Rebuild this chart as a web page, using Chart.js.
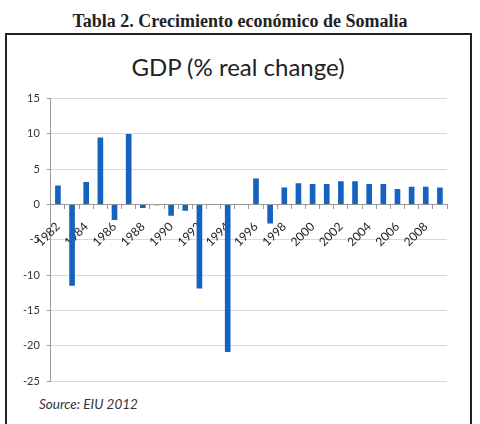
<!DOCTYPE html>
<html>
<head>
<meta charset="utf-8">
<script src="https://cdn.jsdelivr.net/npm/chart.js@4/dist/chart.umd.min.js"></script>
<style>
  html, body { margin:0; padding:0; background:#fff; width:480px; height:424px; overflow:hidden; }
  #outerTitle { position:absolute; left:0; top:11px; width:480px; text-align:center;
    font-family:"Liberation Serif", serif; font-weight:bold; font-size:18px; color:#222; }
  #box { position:absolute; left:5px; top:33px; width:463px; height:420px; border:2px solid #222; }
  #chartTitle { position:absolute; left:0; top:52px; width:476px; text-align:center;
    font-family:Lato, "Open Sans", sans-serif; font-size:24px; color:#222; }
  #source { position:absolute; left:39px; top:396px; font-family:Lato, sans-serif; font-style:italic; font-size:13.5px; color:#333; }
  #wrap { position:absolute; left:0; top:85px; width:480px; height:310px; }
</style>
</head>
<body>
<div id="outerTitle">Tabla 2. Crecimiento económico de Somalia</div>
<div id="box"></div>
<div id="chartTitle">GDP (% real change)</div>
<div id="wrap"><canvas id="c" width="480" height="310"></canvas></div>
<div id="source">Source: EIU 2012</div>
<script>
const years = ["1982","1983","1984","1985","1986","1987","1988","1989","1990","1991","1992","1993","1994","1995",
               "1996","1997","1998","1999","2000","2001","2002","2003","2004","2005","2006","2007","2008","2009"];
const gdpChange = [2.7,-11.5,3.2,9.5,-2.2,10.0,-0.5,-0.1,-1.6,-0.9,-11.9,0,-20.9,0,
                   3.7,-2.7,2.4,3.0,2.9,2.9,3.3,3.3,2.9,2.9,2.2,2.5,2.5,2.4];
const yTicks = [-25,-20,-15,-10,-5,0,5,10,15];

new Chart(document.getElementById('c'), {
  type: 'bar',
  data: {
    labels: years,
    datasets: [{ data: gdpChange, backgroundColor: '#1662c0', borderWidth: 0,
      barPercentage: 0.4, categoryPercentage: 1.0 }]
  },
  options: {
    responsive: false,
    animation: false,
    layout: { padding: { left: 16, right: 33, top: 12, bottom: 14 } },
    plugins: { legend: { display: false }, tooltip: { enabled: false } },
    scales: {
      y: {
        min: yTicks[0], max: yTicks[yTicks.length-1],
        afterBuildTicks: (s) => { s.ticks = yTicks.map(v => ({ value: v })); },
        ticks: { font: { family: 'Lato', size: 11 }, color: '#333', padding: 7 },
        grid: { color: '#d9d9d9', tickLength: 4, tickColor: '#999' },
        border: { color: '#999' }
      },
      x: {
        position: { y: 0 },
        ticks: {
          autoSkip: false, minRotation: 45, maxRotation: 45,
          font: { family: 'Lato', size: 12 }, color: '#222', padding: 11,
          callback: function(v, i) { return i % 2 === 0 ? years[i] : ''; }
        },
        grid: { offset: true, drawOnChartArea: false, drawTicks: true, tickLength: 4, color: '#999' },
        border: { color: '#999' }
      }
    }
  }
});
</script>
</body>
</html>
